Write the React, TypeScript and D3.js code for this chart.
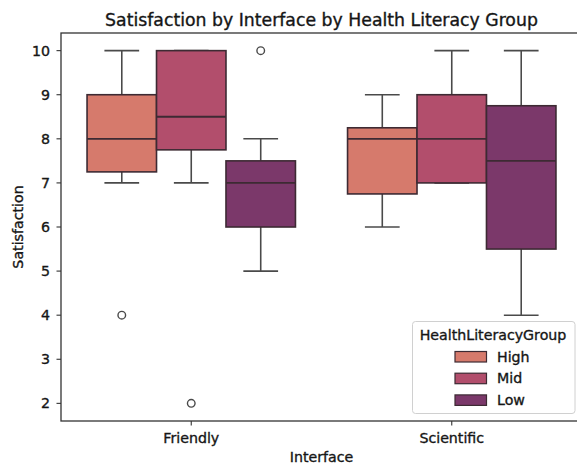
import React from "react";
import * as d3 from "d3";

const categories = ["Friendly", "Scientific"];
const groups = ["High", "Mid", "Low"];
const colors = ["#d67a6c", "#b24e6c", "#7b386a"];
// per category, per group
const whiskerLow = [[7, 7, 5], [6, 7, 4]];
const q1 = [[7.25, 7.75, 6], [6.75, 7, 5.5]];
const median = [[8, 8.5, 7], [8, 8, 7.5]];
const q3 = [[9, 10, 7.5], [8.25, 9, 8.75]];
const whiskerHigh = [[10, 10, 8], [9, 10, 10]];
const outliers = [[[4], [2], [10]], [[], [], []]];
const yTicks = [2, 3, 4, 5, 6, 7, 8, 9, 10];

const W = 577, H = 468;
const left = 61, right = 582, top = 33, bottom = 421;
const font = "DejaVu Sans, sans-serif";
const lineColor = "#4a4a4a";
const txt = { fill: "#161616", stroke: "#161616", strokeWidth: 0.35 } as const;

export default function App() {
  const x = d3.scaleBand<string>().domain(categories).range([left, right]).paddingInner(0.2).paddingOuter(0.1);
  const hue = d3.scaleBand<string>().domain(groups).range([0, x.bandwidth()]);
  const y = d3.scaleLinear().domain([1.6, 10.4]).range([bottom, top]);
  const bw = hue.bandwidth();

  return (
    <svg width={W} height={H} style={{ position: "absolute", left: 0, top: 0, background: "#fff" }} fontFamily={font}>
      <rect x={0} y={0} width={W} height={H} fill="#fff" />
      <text x={(left + right) / 2} y={26} textAnchor="middle" fontSize={17.3} {...txt}>
        Satisfaction by Interface by Health Literacy Group
      </text>
      {categories.map((c, ci) =>
        groups.map((g, gi) => {
          const x0 = (x(c) as number) + (hue(g) as number);
          const cx = x0 + bw / 2;
          const capW = bw / 2;
          return (
            <g key={c + g}>
              <line x1={cx} x2={cx} y1={y(q3[ci][gi])} y2={y(whiskerHigh[ci][gi])} stroke={lineColor} strokeWidth={1.6} />
              <line x1={cx} x2={cx} y1={y(q1[ci][gi])} y2={y(whiskerLow[ci][gi])} stroke={lineColor} strokeWidth={1.6} />
              <line x1={cx - capW / 2} x2={cx + capW / 2} y1={y(whiskerHigh[ci][gi])} y2={y(whiskerHigh[ci][gi])} stroke={lineColor} strokeWidth={1.6} />
              <line x1={cx - capW / 2} x2={cx + capW / 2} y1={y(whiskerLow[ci][gi])} y2={y(whiskerLow[ci][gi])} stroke={lineColor} strokeWidth={1.6} />
              <rect x={x0} y={y(q3[ci][gi])} width={bw} height={y(q1[ci][gi]) - y(q3[ci][gi])} fill={colors[gi]} stroke="#3d2a33" strokeWidth={1.6} />
              <line x1={x0} x2={x0 + bw} y1={y(median[ci][gi])} y2={y(median[ci][gi])} stroke="#3d2a33" strokeWidth={1.8} />
              {outliers[ci][gi].map((v, k) => (
                <circle key={k} cx={cx} cy={y(v)} r={3.8} fill="none" stroke={lineColor} strokeWidth={1.4} />
              ))}
            </g>
          );
        })
      )}
      {/* spines */}
      <rect x={left} y={top} width={right - left} height={bottom - top} fill="none" stroke="#333" strokeWidth={1.3} />
      {/* y axis */}
      {yTicks.map((t) => (
        <g key={t}>
          <line x1={left - 4.5} x2={left} y1={y(t)} y2={y(t)} stroke="#333" strokeWidth={1.1} />
          <text x={left - 11} y={y(t)} dy="0.36em" textAnchor="end" fontSize={14.2} {...txt}>{t}</text>
        </g>
      ))}
      <text transform={`translate(23,${(top + bottom) / 2}) rotate(-90)`} textAnchor="middle" fontSize={14.2} {...txt}>Satisfaction</text>
      {/* x axis */}
      {categories.map((c) => {
        const cx = (x(c) as number) + x.bandwidth() / 2;
        return (
          <g key={c}>
            <line x1={cx} x2={cx} y1={bottom} y2={bottom + 4.5} stroke="#333" strokeWidth={1.1} />
            <text x={cx} y={443} textAnchor="middle" fontSize={14.2} {...txt}>{c}</text>
          </g>
        );
      })}
      <text x={(left + right) / 2} y={462} textAnchor="middle" fontSize={14.2} {...txt}>Interface</text>
      {/* legend */}
      <g>
        <rect x={412.5} y={321.5} width={162.5} height={92} rx={3} fill="#fff" fillOpacity={0.85} stroke="#d0d0d0" strokeWidth={1} />
        <text x={493} y={340} textAnchor="middle" fontSize={14.2} {...txt}>HealthLiteracyGroup</text>
        {groups.map((g, gi) => (
          <g key={g}>
            <rect x={455} y={351.5 + gi * 21.7} width={31.5} height={10.5} fill={colors[gi]} stroke="#3d2a33" strokeWidth={1.2} />
            <text x={497} y={361.5 + gi * 21.7} fontSize={14.2} {...txt}>{g}</text>
          </g>
        ))}
      </g>
    </svg>
  );
}
